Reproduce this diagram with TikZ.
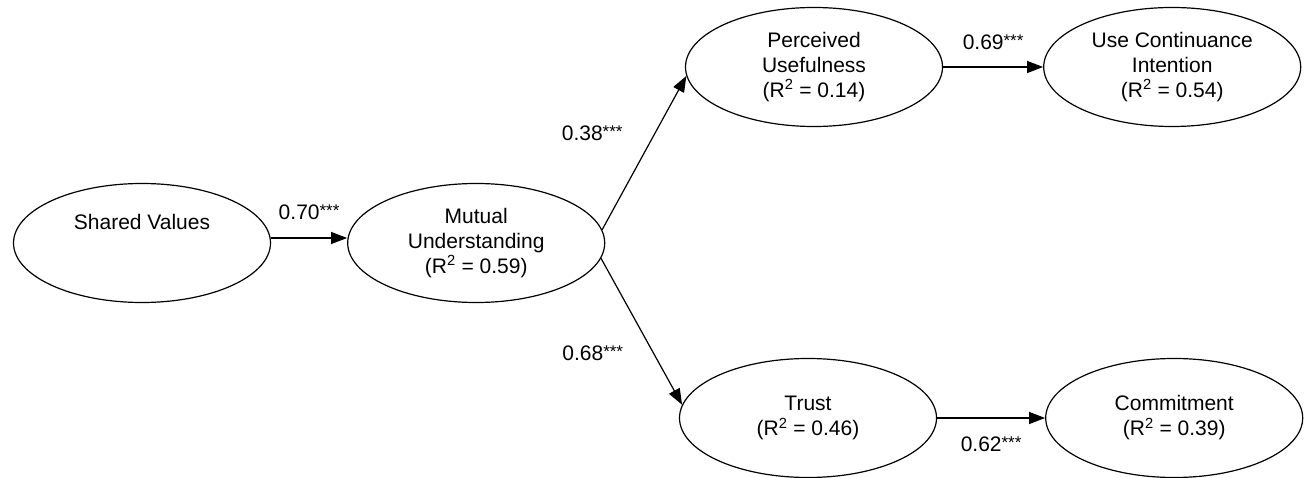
\documentclass[tikz,border=0pt]{standalone}
\usepackage{fontspec}
\setmainfont{Liberation Sans}
\usepackage{tikz}
\usetikzlibrary{arrows.meta, positioning, shapes.geometric}

\newcommand{\sigstars}{\raisebox{3pt}{\fontsize{17}{17}\selectfont ***}}

\begin{document}
\begin{tikzpicture}[
    x=1pt, y=1pt,
    node distance=76pt,
    latent/.style={ellipse, draw, line width=1.2pt, minimum width=257pt,
      minimum height=119pt, inner sep=2pt, align=center,
      font=\fontsize{21}{25}\selectfont},
    link/.style={-{Triangle[length=16pt, width=12pt]}, line width=1.2pt},
    coef/.style={inner sep=3pt, font=\fontsize{21}{25}\selectfont}
  ]
  \useasboundingbox (0,0) rectangle (1309,-478);
  \node[latent, text height=15pt, text depth=42pt] (SV) at (142,-243) {Shared Values};
  \node[latent, right=of SV] (MU) {Mutual\\Understanding\\(R\textsuperscript{2} = 0.59)};
  \node[latent] (PU) at (814,-67) {Perceived\\Usefulness\\(R\textsuperscript{2} = 0.14)};
  \node[latent, right=100pt of PU] (UCI) {Use Continuance\\Intention\\(R\textsuperscript{2} = 0.54)};
  \node[latent] (TR) at (808,-418) {Trust\\(R\textsuperscript{2} = 0.46)};
  \node[latent, right=108pt of TR] (CO) {Commitment\\(R\textsuperscript{2} = 0.39)};
  \draw[link] ([yshift=5pt]SV.east) -- node[coef, above=15pt] {0.70\sigstars} ([yshift=5pt]MU.west);
  \draw[link] (MU.6) -- node[coef, pos=0.63, left=29pt] {0.38\sigstars} (PU.184);
  \draw[link] (MU.-7) -- node[coef, pos=0.65, left=27pt] {0.68\sigstars} (TR.174);
  \draw[link] (PU) -- node[coef, above=14pt] {0.69\sigstars} (UCI);
  \draw[link] (TR) -- node[coef, below=15pt] {0.62\sigstars} (CO);
\end{tikzpicture}
\end{document}
